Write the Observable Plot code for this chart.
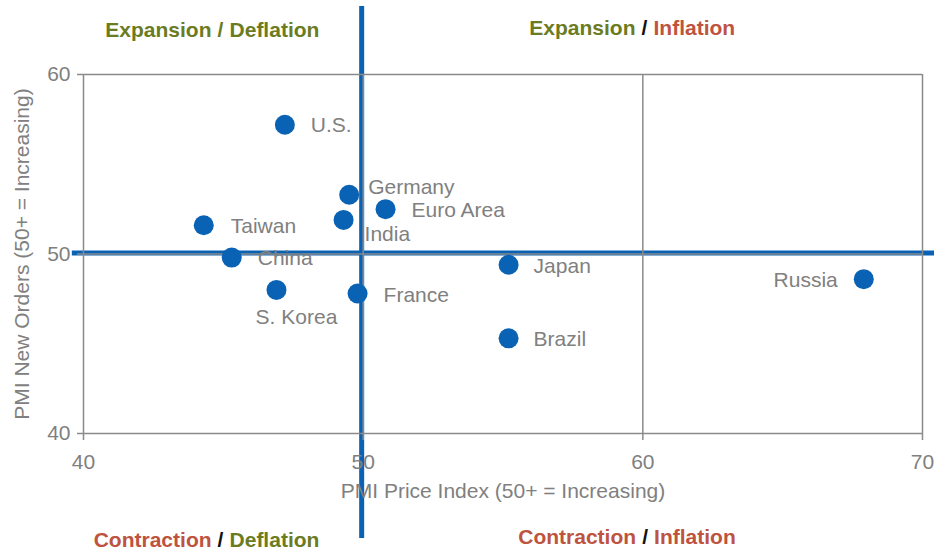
<!DOCTYPE html>
<html>
<head>
<meta charset="utf-8">
<script src="https://cdn.jsdelivr.net/npm/d3@7"></script>
<script src="https://cdn.jsdelivr.net/npm/@observablehq/plot@0.6"></script>
<style>
  html, body { margin: 0; padding: 0; background: #fff; overflow: hidden; }
  #chart svg { display: block; }
</style>
</head>
<body>
<div id="chart"></div>
<script>
// ---- Data ----
const countries  = ["U.S.", "Germany", "Euro Area", "India", "Taiwan", "China", "S. Korea", "France", "Japan", "Brazil", "Russia"];
const priceIndex = [47.2, 49.5, 50.8, 49.3, 44.3, 45.3, 46.9, 49.8, 55.2, 55.2, 67.9];
const newOrders  = [57.2, 53.3, 52.5, 51.9, 51.6, 49.8, 48.0, 47.8, 49.4, 45.3, 48.6];
const xTicks = [40, 50, 60, 70];
const yTicks = [40, 50, 60];
const xLabel = "PMI Price Index (50+ = Increasing)";
const yLabel = "PMI New Orders (50+ = Increasing)";
const quadrantLeft  = ["Expansion", "Expansion", "Contraction", "Contraction"];
const quadrantRight = ["Deflation", "Inflation", "Deflation", "Inflation"];

const data = countries.map((name, i) => ({name, x: priceIndex[i], y: newOrders[i]}));

// ---- Styling / placement ----
const GREEN = "#6b7b1f", RED = "#be5340", BLUE = "#0a62b4", GRID = "#8a8a8a", TEXT = "#808080";
const FS = 21;
const wordColor = {Expansion: GREEN, Deflation: GREEN, Contraction: RED, Inflation: RED};
const slashColor = ["#6b7b1f", "#111", "#111", "#111"];
// quadrant label anchor positions (data units)
const quadPos = [[44.9, 62.45], [60.06, 62.56], [44.9, 34.04], [60.08, 34.21]];
const quads = quadrantLeft.map((l, i) => ({left: l, right: quadrantRight[i], x: quadPos[i][0], y: quadPos[i][1], slash: slashColor[i]}));

const place = {
  "U.S.":      {dx: 26, dy: 1,  anchor: "start"},
  "Germany":   {dx: 19, dy: -7, anchor: "start"},
  "Euro Area": {dx: 26, dy: 1,  anchor: "start"},
  "India":     {dx: 21, dy: 14, anchor: "start"},
  "Taiwan":    {dx: 27, dy: 1,  anchor: "start"},
  "China":     {dx: 26, dy: 1,  anchor: "start"},
  "S. Korea":  {dx: 20, dy: 27, anchor: "middle"},
  "France":    {dx: 26, dy: 2,  anchor: "start"},
  "Japan":     {dx: 25, dy: 1,  anchor: "start"},
  "Brazil":    {dx: 25, dy: 1,  anchor: "start"},
  "Russia":    {dx: -26, dy: 1, anchor: "end"}
};

const labelMarks = countries.map(c => Plot.text(data, {
  filter: d => d.name === c, x: "x", y: "y", text: "name",
  dx: place[c].dx, dy: place[c].dy, textAnchor: place[c].anchor,
  fill: TEXT, fontSize: FS
}));

const chart = Plot.plot({
  width: 934,
  height: 551,
  marginLeft: 83,
  marginRight: 12,
  marginTop: 74,
  marginBottom: 118,
  style: {fontFamily: "'Liberation Sans', Arial, sans-serif", fontSize: FS + "px", background: "#fff"},
  x: {domain: [40, 70], label: null},
  y: {domain: [40, 60], label: null},
  marks: [
    // blue quadrant dividers
    Plot.ruleX([50], {y1: 34.15, y2: 63.79, stroke: BLUE, strokeWidth: 5, dx: -1.5}),
    Plot.ruleY([50], {x1: 39.6, x2: 70.5, stroke: BLUE, strokeWidth: 5, dy: -1}),
    // grid
    Plot.ruleX(xTicks, {stroke: GRID, strokeWidth: 1.5}),
    Plot.ruleY(yTicks, {stroke: GRID, strokeWidth: 1.5}),
    Plot.axisX(xTicks, {tickSize: 7, tickPadding: 14, stroke: GRID, strokeWidth: 1.5, fill: TEXT, fontSize: FS, label: null}),
    Plot.axisY(yTicks, {tickSize: 6, tickPadding: 7, stroke: GRID, strokeWidth: 1.5, fill: TEXT, fontSize: FS, label: null}),
    // axis titles
    Plot.text([xLabel], {frameAnchor: "bottom", dy: 58, fill: TEXT, fontSize: FS, lineAnchor: "middle", textAnchor: "middle"}),
    Plot.text([yLabel], {frameAnchor: "left", dx: -61, rotate: -90, fill: TEXT, fontSize: FS, lineAnchor: "middle", textAnchor: "middle"}),
    // points
    Plot.dot(data, {x: "x", y: "y", r: 10, fill: BLUE, stroke: "none"}),
    ...labelMarks,
    // quadrant labels
    Plot.text(quads, {x: "x", y: "y", text: () => "/", fill: "slash", fontWeight: "bold", fontSize: FS, textAnchor: "middle"}),
    Plot.text(quads, {x: "x", y: "y", text: "left", fill: d => wordColor[d.left], fontWeight: "bold", fontSize: FS, textAnchor: "end", dx: -9}),
    Plot.text(quads, {x: "x", y: "y", text: "right", fill: d => wordColor[d.right], fontWeight: "bold", fontSize: FS, textAnchor: "start", dx: 9})
  ]
});
document.getElementById("chart").appendChild(chart);
</script>
</body>
</html>
